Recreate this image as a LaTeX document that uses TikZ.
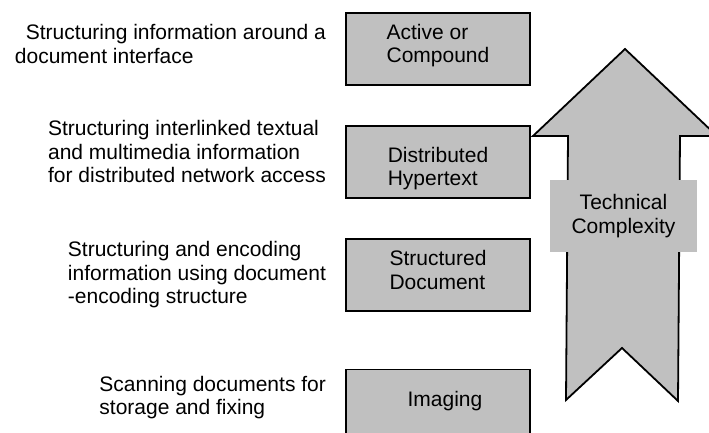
\documentclass[tikz,border=0pt]{standalone}
\usepackage{fontspec}
\setmainfont{Liberation Sans}
\usepackage{tikz}
\usetikzlibrary{positioning}
\definecolor{stagegray}{RGB}{192,192,192}

\begin{document}
\begin{tikzpicture}[
    x=1pt, y=-1pt,
    font=\fontsize{21}{23.5}\selectfont,
    stage/.style={rectangle, draw, line width=1.8pt, fill=stagegray,
                  minimum width=184pt, minimum height=72pt},
    stagetext/.style={inner sep=0pt, align=left},
    stagenote/.style={inner sep=0pt, align=left},
    cxlabel/.style={rectangle, fill=stagegray, minimum width=147pt,
                    minimum height=72pt, align=center},
    bigarrow/.style={draw, line width=1.8pt, fill=stagegray}
]
\useasboundingbox (0,0) rectangle (709,433);

%% --- Stages ---
\node[stage] (active) at (438,49) {};
\node[stage, below=39pt of active] (hyper)   {};
\node[stage, below=39pt of hyper]  (struct)  {};
\node[stage, below=57pt of struct] (imaging) {};

\node[stagetext, yshift=3.5pt]  (activetext)  at (active)  {Active or\\Compound};
\node[stagetext, yshift=-7pt]   (hypertext)   at (hyper)   {Distributed\\Hypertext};
\node[stagetext, yshift=4.5pt]  (structtext)  at (struct)  {Structured\\Document};
\node[stagetext, yshift=4pt, xshift=7pt] (imagingtext) at (imaging) {Imaging};

%% --- Descriptions ---
\node[stagenote, left=19pt of active, yshift=5pt] (activenote)
      {\hspace*{11pt}Structuring information around a\\document interface};
\node[stagenote, left=19pt of hyper, yshift=10pt] (hypernote)
      {Structuring interlinked textual\\and multimedia information\\for distributed network access};
\node[stagenote, left=19pt of struct] (structnote)
      {Structuring and encoding\\information using document\\-encoding structure};
\node[stagenote, left=19pt of imaging, yshift=8pt] (imagingnote)
      {Scanning documents for\\storage and fixing};

%% --- Complexity arrow ---
\draw[bigarrow] (625,49) -- (717,136) -- (680,136) -- (678,401) -- (622,348)
    -- (566,400) -- (568,136) -- (533,136) -- cycle;
\node[cxlabel] (complexity) at (623.5,216) {Technical\\Complexity};

\end{tikzpicture}
\end{document}
